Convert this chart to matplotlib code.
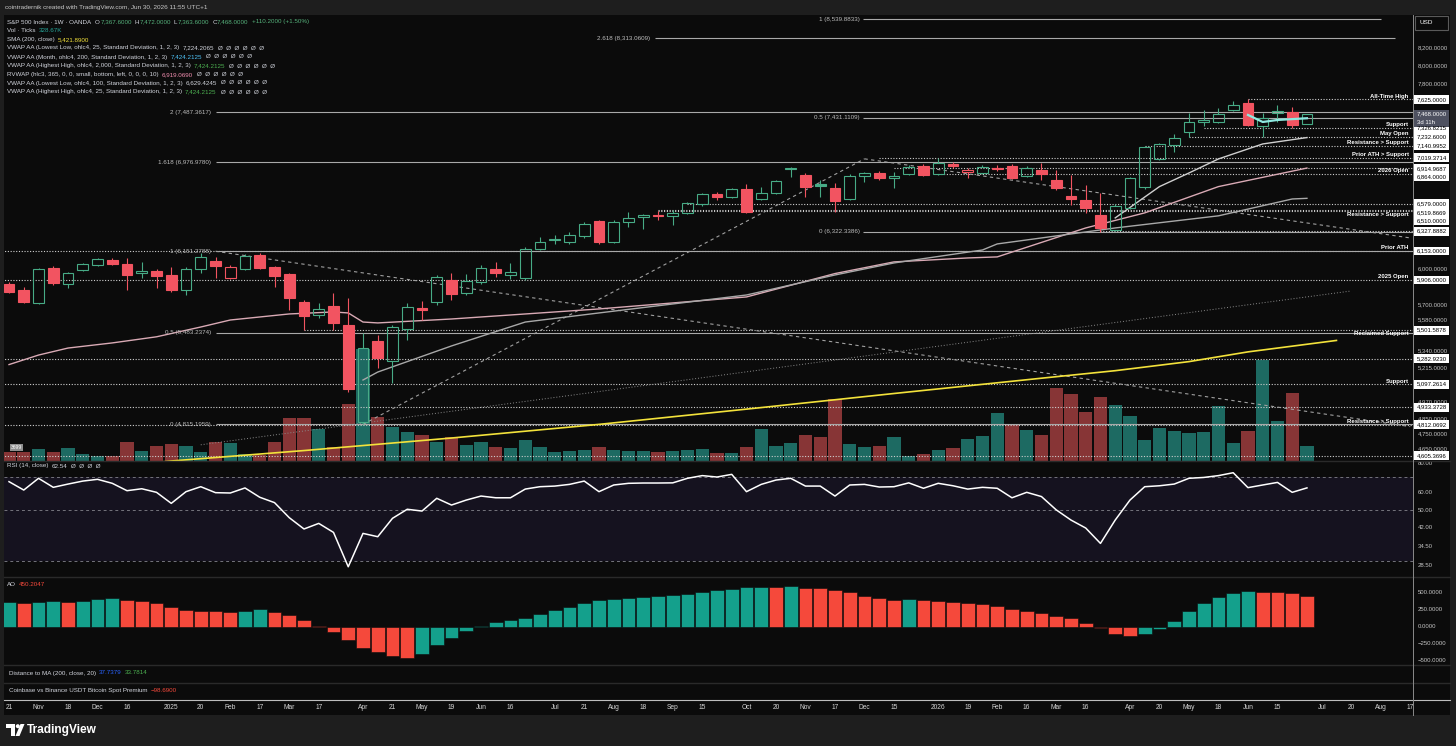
import matplotlib
matplotlib.use('Agg')
import numpy as np
import matplotlib.pyplot as plt
from matplotlib.lines import Line2D
from matplotlib.patches import Rectangle, Circle, Polygon
from matplotlib.ticker import NullLocator

plt.rcParams['font.family'] = ['Liberation Sans', 'DejaVu Sans']

# weekly candles, week of 21 Oct 2024 .. week of 29 Jun 2026
opens = [5873, 5823, 5717, 6007, 5873, 5990, 6033, 6076, 6041, 5965,
         5982, 5948, 5823, 5999, 6067, 5923, 5999, 6119, 6015, 5957,
         5725, 5621, 5693, 5542, 4830, 5418, 5267, 5511, 5677, 5725,
         5906, 5798, 5889, 5999, 5948, 5923, 6171, 6250, 6232, 6286,
         6421, 6232, 6412, 6457, 6476, 6467, 6494, 6577, 6670, 6642,
         6717, 6623, 6680, 6910, 6851, 6765, 6727, 6623, 6842, 6871,
         6823, 6861, 6939, 6861, 6959, 6881, 6871, 6910, 6939, 6842,
         6900, 6803, 6651, 6614, 6476, 6339, 6540, 6736, 7009, 7149,
         7281, 7385, 7385, 7512, 7587, 7344, 7480, 7491, 7367.6]
highs = [5890, 5848, 6005, 6024, 5973, 6050, 6095, 6090, 6093, 6059,
         5995, 6015, 6015, 6137, 6102, 6030, 6125, 6135, 6025, 5965,
         5740, 5717, 5798, 5757, 5480, 5465, 5540, 5717, 5733, 5950,
         5965, 5960, 6030, 6059, 6050, 6190, 6275, 6295, 6322, 6410,
         6430, 6425, 6503, 6485, 6512, 6521, 6595, 6680, 6690, 6727,
         6765, 6736, 6803, 6925, 6871, 6803, 6774, 6860, 6880, 6890,
         6880, 6945, 6960, 7019, 6975, 6920, 6945, 6945, 6955, 6935,
         6969, 6900, 6851, 6755, 6680, 6577, 6835, 7140, 7170, 7260,
         7475, 7512, 7530, 7610, 7625, 7480, 7566, 7545, 7472]
lows = [5798, 5717, 5710, 5864, 5840, 5982, 6025, 6030, 5823, 5923,
        5840, 5807, 5782, 5965, 5923, 5915, 5990, 5999, 5848, 5661,
        5503, 5597, 5503, 5041, 4815, 5215, 5105, 5426, 5581, 5700,
        5741, 5780, 5870, 5931, 5915, 5910, 6162, 6215, 6215, 6270,
        6215, 6220, 6366, 6348, 6430, 6384, 6485, 6560, 6614, 6630,
        6494, 6614, 6670, 6832, 6642, 6640, 6503, 6610, 6784, 6800,
        6727, 6850, 6840, 6850, 6920, 6823, 6860, 6890, 6810, 6832,
        6803, 6708, 6567, 6494, 6322, 6330, 6530, 6720, 7000, 7080,
        7230, 7340, 7370, 7500, 7340, 7230, 7385, 7326, 7363.6]
closes = [5807, 5725, 5999, 5881, 5965, 6041, 6085, 6041, 5948, 5982,
          5940, 5823, 5999, 6102, 6024, 6015, 6110, 6007, 5940, 5757,
          5613, 5669, 5558, 5062, 5364, 5289, 5526, 5685, 5661, 5931,
          5790, 5898, 6007, 5965, 5973, 6171, 6232, 6259, 6295, 6393,
          6232, 6412, 6448, 6476, 6467, 6494, 6586, 6670, 6642, 6717,
          6503, 6680, 6793, 6920, 6736, 6745, 6604, 6842, 6871, 6823,
          6842, 6929, 6851, 6969, 6939, 6900, 6929, 6920, 6823, 6920,
          6861, 6727, 6623, 6540, 6357, 6558, 6823, 7129, 7159, 7220,
          7385, 7406, 7470, 7566, 7354, 7427, 7500, 7354, 7468]
volume_k = [197, 197, 263, 197, 285, 153, 110, 110, 416, 219,
            329, 372, 329, 197, 416, 394, 153, 131, 416, 942,
            942, 701, 307, 1248, 2453, 964, 745, 635, 569, 416,
            526, 350, 416, 307, 285, 460, 307, 197, 219, 241,
            307, 241, 219, 219, 197, 219, 241, 256, 182, 169,
            300, 701, 322, 388, 569, 526, 1351, 366, 307, 329,
            532, 110, 153, 241, 291, 482, 554, 1058, 810, 679,
            569, 1605, 1467, 1073, 1408, 1226, 986, 460, 723, 657,
            613, 635, 1205, 394, 657, 2212, 876, 1496, 328.67]
rsi = [66.6, 61.2, 68.9, 62.9, 65.0, 67.0, 68.2, 65.5, 60.8, 62.0,
       59.8, 53.5, 60.2, 63.3, 59.6, 59.4, 62.5, 56.9, 53.9, 46.3,
       41.3, 43.7, 39.9, 28.2, 39.5, 38.2, 46.0, 50.4, 49.5, 56.3,
       52.6, 55.3, 57.6, 56.6, 56.6, 61.8, 63.3, 63.7, 64.8, 67.0,
       60.2, 64.4, 65.5, 65.7, 65.7, 65.8, 68.9, 70.8, 69.8, 71.7,
       60.2, 64.8, 67.7, 68.9, 63.7, 63.7, 57.6, 64.4, 64.8, 63.1,
       63.3, 65.8, 62.3, 65.5, 63.9, 61.8, 62.9, 62.3, 56.6, 59.8,
       57.3, 50.1, 45.2, 41.7, 35.7, 45.2, 55.3, 63.3, 63.9, 65.0,
       68.9, 69.5, 70.8, 72.9, 62.7, 64.4, 66.1, 59.8, 62.54]
ao = [363, 358, 372, 387, 372, 387, 412, 422, 397, 387,
      353, 299, 250, 240, 228, 225, 240, 260, 225, 176,
      103, 20, -69, -191, -314, -363, -426, -451, -402, -265,
      -167, -59, 15, 78, 103, 137, 191, 250, 289, 348,
      397, 412, 431, 446, 456, 466, 485, 512, 544, 564,
      588, 592, 588, 603, 578, 575, 549, 515, 456, 426,
      397, 407, 397, 382, 368, 353, 333, 304, 265, 230,
      211, 167, 127, 64, -15, -103, -132, -103, -25, 93,
      240, 358, 436, 500, 529, 520, 515, 500, 450.2]

# indicator lines read at bar indices
sma_idx = [8, 11, 20, 30, 40, 50, 60, 70, 75, 80, 84, 90]
sma_val = [4545, 4572, 4640, 4723, 4815, 4920, 5030, 5140, 5195, 5262, 5335, 5422]
rvwap_idx = [0, 2, 4, 7, 10, 13, 15, 19, 22, 23, 24, 25, 30, 40, 50, 56, 60, 65, 67, 73, 77, 82, 88]
rvwap_val = [5240, 5311, 5364, 5403, 5450, 5526, 5581, 5629, 5645, 5637, 5565, 5558, 5589,
             5669, 5766, 5960, 6059, 6093, 6102, 6357, 6494, 6740, 6919]
ll100_idx = [24, 25, 30, 35, 40, 50, 56, 60, 66, 67, 75, 82, 87, 88]
ll100_val = [5127, 5185, 5380, 5565, 5637, 5782, 5948, 6050, 6162, 6215, 6357, 6467, 6623, 6629]
ll25_idx = [75, 78, 80, 82, 85, 88]
ll25_val = [6448, 6740, 6871, 7009, 7159, 7224]
hh25_idx = [84, 85, 86, 88]
hh25_val = [7459, 7385, 7406, 7424]

# fib tools
fib1_lvl = ['0', '0.5', '1', '1.618', '2']
fib1_val = [4815.1959, 5483.2374, 6151.2788, 6976.9780, 7487.3617]
fib2_lvl = ['0', '0.5', '1']
fib2_val = [6322.3386, 7431.1109, 8539.8833]
fib2_end = [95.2, 95.2, 93.0]
ext_lvl, ext_val = '2.618', 8313.0609

# drawn trend lines (bar index, price)
dash_lines = [[(14, 6151), (95, 4800)], [(24, 4815), (58, 7010)], [(58, 7010), (95, 6268)]]
dot_line = [(13, 4678), (91, 5815)]

# horizontal levels
lvl_price = [7625.0, 7326.8215, 7232.6, 7140.9952, 7019.3714, 6914.9687, 6864.0,
             6579.0, 6519.8669, 6510.0, 6327.8882, 6153.0, 5906.0, 5501.5878,
             5282.9230, 5097.2614, 4933.3728, 4812.0692, 4605.3696]
lvl_text = ['All-Time High', 'Support', 'May Open', 'Resistance > Support', 'Prior ATH > Support',
            '', '2026 Open', '', '', 'Resistance > Support', '', 'Prior ATH', '2025 Open',
            'Reclaimed Support', '', 'Support', '', 'Resistance > Support', '']
lvl_start = [84, 81, 80, 77, 59, 60, 63, 46, 44, 44, 74, -1, -1, 20, -1, -1, -1, -1, -1]
lvl_below = ['Reclaimed Support']

price_ticks = [8200, 8000, 7800, 6000, 5700, 5580, 5340, 5215, 4970, 4850, 4750, 4650]
rsi_ticks = [80, 60, 50, 42, 34.5, 28.5]
ao_ticks = [500, 250, 0, -250, -500]
last_price = 7468.0

time_idx = [0, 2, 4, 6, 8, 11, 13, 15, 17, 19, 21, 24, 26, 28, 30, 32, 34, 37, 39, 41, 43,
            45, 47, 50, 52, 54, 56, 58, 60, 63, 65, 67, 69, 71, 73, 76, 78, 80, 82, 84, 86,
            89, 91, 93, 95]
time_lbl = ['21', 'Nov', '18', 'Dec', '16', '2025', '20', 'Feb', '17', 'Mar', '17', 'Apr', '21',
            'May', '19', 'Jun', '16', 'Jul', '21', 'Aug', '18', 'Sep', '15', 'Oct', '20', 'Nov',
            '17', 'Dec', '15', '2026', '19', 'Feb', '16', 'Mar', '16', 'Apr', '20', 'May', '18',
            'Jun', '15', 'Jul', '20', 'Aug', '17']

W, H = 1456, 746
BG = '#0b0b0b'
TXT = '#d1d4dc'
AXT = '#c4c4c4'
GREEN = '#47ab86'
RED = '#f25461'
XL = (-0.34, 95.19)
FS = 4.5

fig = plt.figure(figsize=(W / 100, H / 100), dpi=100)
fig.patch.set_facecolor('#1e1e1e')


def box(x0, y0, x1, y1):
    return [x0 / W, 1 - y1 / H, (x1 - x0) / W, (y1 - y0) / H]


def new_ax(x0, y0, x1, y1, fc=BG, log=False):
    ax = fig.add_axes(box(x0, y0, x1, y1))
    ax.set_facecolor(fc)
    if log:
        ax.set_yscale('log')
    for a in (ax.xaxis, ax.yaxis):
        a.set_major_locator(NullLocator())
        a.set_minor_locator(NullLocator())
    for s in ax.spines.values():
        s.set_visible(False)
    return ax


def hline(y, x0=4, x1=1450, color='#2a2a2a', lw=1.0):
    fig.add_artist(Line2D([x0 / W, x1 / W], [1 - y / H] * 2, color=color, lw=lw))


def chain(x, y, parts, size=FS):
    r = fig.canvas.get_renderer()
    for s, c, gap in parts:
        t = fig.text(x / W, 1 - y / H, s, color=c, fontsize=size, va='center', ha='left')
        x += t.get_window_extent(renderer=r).width + gap


bg = new_ax(4, 15, 1450, 715)

# ---- price pane ----
idx = np.arange(len(closes))
o, h, l, c = (np.array(a, float) for a in (opens, highs, lows, closes))
prev = np.r_[o[0], c[:-1]]
col = np.where(c >= prev, GREEN, RED)
filled = c < o
top, bot = np.maximum(o, c), np.minimum(o, c)

ax_v = new_ax(4, 18, 1413, 461)
ax_v.set_xlim(XL)
ax_v.set_ylim(0, 9700)
ax_v.bar(idx, volume_k, width=0.9, color=np.where(c >= o, '#1d6a62', '#873536'), linewidth=0)

ax_p = new_ax(4, 18, 1413, 461, fc='none', log=True)
ax_p.set_xlim(XL)
ax_p.set_ylim(4572, 8555)

for p, txt, s in zip(lvl_price, lvl_text, lvl_start):
    ax_p.hlines(p, s, 95.2, colors='#cfcfcf', linestyles=(0, (1, 1.5)), lw=0.8, zorder=2)
    if txt:
        below = txt in lvl_below or (txt == 'Resistance > Support' and p == 6510.0)
        ax_p.text(94.9, p * (0.9985 if below else 1.0008), txt, ha='right',
                  va='top' if below else 'bottom', color='white', fontsize=4.3, weight='bold', zorder=8)

for lv, p in zip(fib1_lvl, fib1_val):
    ax_p.hlines(p, 14.0, 95.2, colors='#a9a9a9', lw=0.8, zorder=2)
    ax_p.text(13.7, p, f'{lv} ({p:,.4f})', ha='right', va='center', color='#bdbdbd', fontsize=FS, zorder=8)
for lv, p, e in zip(fib2_lvl, fib2_val, fib2_end):
    ax_p.hlines(p, 57.9, e, colors='#a9a9a9', lw=0.8, zorder=2)
    ax_p.text(57.7, p, f'{lv} ({p:,.4f})', ha='right', va='center', color='#bdbdbd', fontsize=FS, zorder=8)
ax_p.hlines(ext_val, 43.8, 94.0, colors='#a9a9a9', lw=0.8, zorder=2)
ax_p.text(43.5, ext_val, f'{ext_lvl} ({ext_val:,.4f})', ha='right', va='center', color='#bdbdbd',
          fontsize=FS, zorder=8)

for seg in dash_lines:
    (xa, ya), (xb, yb) = seg
    ax_p.plot([xa, xb], [ya, yb], color='#a0a0a0', ls=(0, (3, 3)), lw=0.8, zorder=3)
ax_p.plot([dot_line[0][0], dot_line[1][0]], [dot_line[0][1], dot_line[1][1]],
          color='#8c8c8c', ls=(0, (1, 2)), lw=0.7, zorder=3)

ax_p.plot(sma_idx, sma_val, color='#f3e23b', lw=1.2, zorder=4)
ax_p.plot(rvwap_idx, rvwap_val, color='#d9aab5', lw=1.0, zorder=4)
ax_p.plot(ll100_idx, ll100_val, color='#a8a8a8', lw=1.0, zorder=4)
ax_p.plot(ll25_idx, ll25_val, color='#d0d0d0', lw=1.0, zorder=4)
ax_p.plot(hh25_idx, hh25_val, color='#8ee8e0', lw=1.6, zorder=6)

ax_p.vlines(idx, top, h, colors=col, lw=0.8, zorder=5)
ax_p.vlines(idx, l, bot, colors=col, lw=0.8, zorder=5)
ax_p.bar(idx, top - bot, bottom=bot, width=0.72,
         facecolor=[cc if f else 'none' for cc, f in zip(col, filled)],
         edgecolor=col, linewidth=0.8, zorder=5)

ax_p.text(0.12, 4660, '3699', color='white', fontsize=3.6, va='center', ha='left', zorder=9,
          bbox=dict(boxstyle='square,pad=0.2', fc='#8f8f8f', ec='none'))

# price scale
ax_pa = new_ax(1413, 18, 1450, 461, fc='none', log=True)
ax_pa.set_xlim(0, 1)
ax_pa.set_ylim(4572, 8555)
for p in price_ticks:
    ax_pa.text(0.135, p, f'{p:,.4f}', va='center', ha='left', color=AXT, fontsize=4.3)
inv = fig.transFigure.inverted()
last_y = 1e9
for p in sorted(lvl_price, reverse=True):
    yd = ax_pa.transData.transform((0.5, p))[1]
    if last_y - yd < 8.6:
        yd = last_y - 8.6
    last_y = yd
    fig.add_artist(Rectangle((1414 / W, (yd - 4.4) / H), 35 / W, 8.8 / H, transform=fig.transFigure,
                             fc='white', ec='none', zorder=10))
    fig.text(1417 / W, yd / H, f'{p:,.4f}', color='black', fontsize=4.3, va='center', zorder=11)
yd = ax_pa.transData.transform((0.5, last_price))[1]
fig.add_artist(Rectangle((1414 / W, (yd - 12.5) / H), 35 / W, 17 / H, transform=fig.transFigure,
                         fc='#4e5160', ec='none', zorder=10))
fig.text(1417 / W, yd / H, f'{last_price:,.4f}', color='white', fontsize=4.3, va='center', zorder=11)
fig.text(1417 / W, (yd - 8) / H, '3d 11h', color='white', fontsize=4.3, va='center', zorder=11)
fig.add_artist(Rectangle((1415 / W, 1 - 30 / H), 33 / W, 14 / H, transform=fig.transFigure,
                         fc=BG, ec='#5a5a5a', lw=0.8, zorder=10))
fig.text(1419 / W, 1 - 23 / H, 'USD', color='white', fontsize=4.6, va='center', zorder=11)

# ---- RSI pane ----
ax_r = new_ax(4, 461, 1413, 577, log=True)
ax_r.set_xlim(XL)
ax_r.set_ylim(25.43, 82.06)
ax_r.axhspan(30, 70, color='#15121f', lw=0)
for v in (70, 50, 30):
    ax_r.axhline(v, color='#74747c', ls=(0, (3, 3)), lw=0.7)
ax_r.plot(idx, rsi, color='white', lw=1.1)
ax_ra = new_ax(1413, 461, 1450, 577, fc='none', log=True)
ax_ra.set_ylim(25.43, 82.06)
ax_ra.set_xlim(0, 1)
for v in rsi_ticks:
    ax_ra.text(0.135, v, f'{v:.2f}', va='center', ha='left', color=AXT, fontsize=4.3)

# ---- AO pane ----
ax_ao = new_ax(4, 577, 1413, 665)
ax_ao.set_xlim(XL)
ax_ao.set_ylim(-559, 735)
aoa = np.array(ao, float)
ao_prev = np.r_[-1e9, aoa[:-1]]
ax_ao.bar(idx, aoa, width=0.94, color=np.where(aoa >= ao_prev, '#14a08c', '#f5493b'),
          edgecolor=BG, linewidth=0.4)
ax_aa = new_ax(1413, 577, 1450, 665, fc='none')
ax_aa.set_ylim(-559, 735)
ax_aa.set_xlim(0, 1)
for v in ao_ticks:
    ax_aa.text(0.135, v, f'{v:.4f}'.replace('-', '\u2212'), va='center', ha='left', color=AXT, fontsize=4.3)

# ---- time axis ----
ax_t = new_ax(4, 700, 1413, 715, fc='none')
ax_t.set_xlim(XL)
ax_t.set_ylim(0, 1)
for i, s in zip(time_idx, time_lbl):
    ax_t.text(i, 0.5, s, ha='center', va='center', color='#d6d6d6', fontsize=4.8)

# separators
for y in (461, 577, 665, 683):
    hline(y)
hline(700, color='#bdbdbd', lw=0.8)
fig.add_artist(Line2D([1413 / W] * 2, [1 - 15 / H, 1 - 715 / H], color='#8a8a8a', lw=0.7))

# ---- legends ----
fig.text(5 / W, 1 - 7.5 / H, 'cointradernik created with TradingView.com, Jun 30, 2026 11:55 UTC+1',
         color='#c8c8c8', fontsize=4.6, va='center')
LG = '#55b07a'
phi = 'Ø  Ø  Ø  Ø  Ø  Ø'
chain(7, 22, [('S&P 500 Index · 1W · OANDA', TXT, 4), ('O', TXT, 0.3), ('7,367.6000', LG, 3),
              ('H', TXT, 0.3), ('7,472.0000', LG, 3), ('L', TXT, 0.3), ('7,363.6000', LG, 3),
              ('C', TXT, 0.3), ('7,468.0000', LG, 3), ('+110.2000 (+1.50%)', LG, 0)])
chain(7, 31, [('Vol · Ticks', TXT, 3), ('328.67K', '#26a69a', 0)])
chain(7, 39.5, [('SMA (200, close)', TXT, 3), ('5,421.8900', '#f3e23b', 0)])
chain(7, 48, [('VWAP AA (Lowest Low, ohlc4, 25, Standard Deviation, 1, 2, 3)', TXT, 3),
              ('7,224.2065', TXT, 4), (phi, TXT, 0)])
chain(7, 57, [('VWAP AA (Month, ohlc4, 200, Standard Deviation, 1, 2, 3)', TXT, 3),
              ('7,424.2125', '#4fc3f7', 4), (phi, TXT, 0)])
chain(7, 66, [('VWAP AA (Highest High, ohlc4, 2,000, Standard Deviation, 1, 2, 3)', TXT, 3),
              ('7,424.2125', '#4caf50', 4), (phi, TXT, 0)])
chain(7, 74.5, [('RVWAP (hlc3, 365, 0, 0, small, bottom, left, 0, 0, 0, 10)', TXT, 3),
                ('6,919.0690', '#f48fb1', 4), (phi, TXT, 0)])
chain(7, 83, [('VWAP AA (Lowest Low, ohlc4, 100, Standard Deviation, 1, 2, 3)', TXT, 3),
              ('6,629.4245', TXT, 4), (phi, TXT, 0)])
chain(7, 92, [('VWAP AA (Highest High, ohlc4, 25, Standard Deviation, 1, 2, 3)', TXT, 3),
              ('7,424.2125', '#4caf50', 4), (phi, TXT, 0)])
chain(7, 466, [('RSI (14, close)', TXT, 3), ('62.54', TXT, 4), ('Ø  Ø  Ø  Ø', TXT, 0)])
chain(7, 585, [('AO', TXT, 3), ('450.2047', '#f5493b', 0)])
chain(9, 673, [('Distance to MA (200, close, 20)', TXT, 3), ('37.7379', '#2962ff', 3), ('33.7814', '#4caf50', 0)])
chain(9, 690.5, [('Coinbase vs Binance USDT Bitcoin Spot Premium', TXT, 3), ('\u221298.6900', '#f5493b', 0)])

# ---- footer logo ----
lax = fig.add_axes(box(0, 715, W, H))
lax.set_xlim(0, W)
lax.set_ylim(H, 715)
lax.axis('off')
lax.add_patch(Rectangle((6, 724), 9, 3.6, fc='white', ec='none'))
lax.add_patch(Rectangle((10.8, 724), 4.2, 12, fc='white', ec='none'))
lax.add_patch(Circle((17.8, 726.2), 2.0, fc='white', ec='none'))
lax.add_patch(Polygon([(20.5, 724), (24.5, 724), (19.5, 736), (15.5, 736)], closed=True, fc='white', ec='none'))
lax.text(27, 730.5, 'TradingView', color='white', fontsize=8.6, weight='bold', va='center', ha='left')

fig.savefig('out.png', dpi=100, facecolor=fig.get_facecolor())
